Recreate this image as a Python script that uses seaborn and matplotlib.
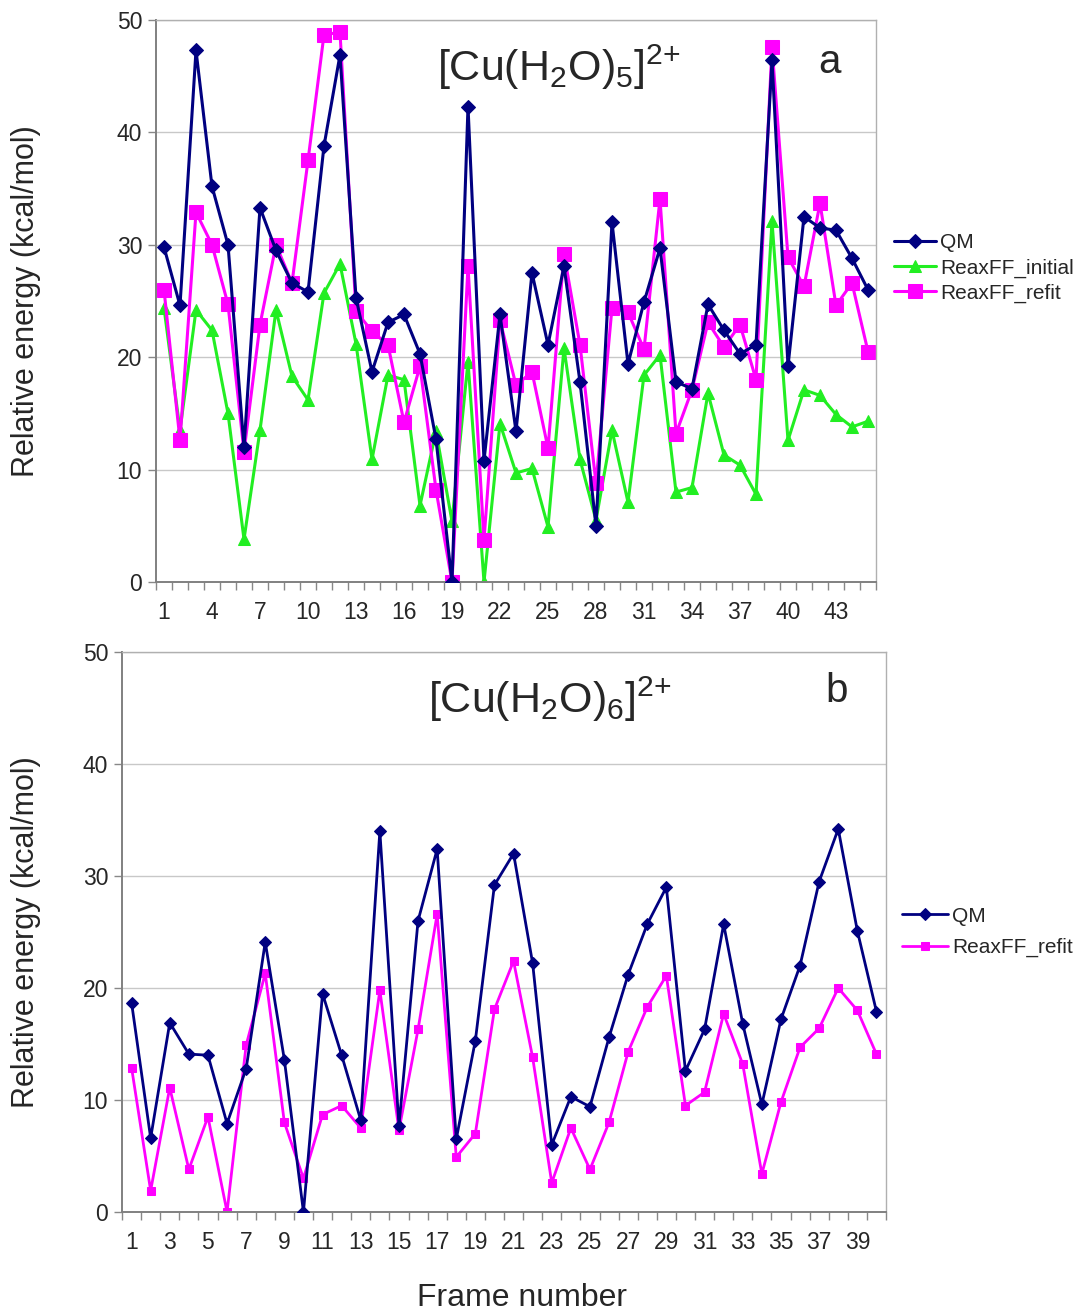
import numpy as np
import pandas as pd
import matplotlib
matplotlib.use("Agg")
import matplotlib.pyplot as plt
from matplotlib.ticker import FixedLocator
import seaborn as sns

# ---------------- data ----------------
frames_a = list(range(1, 46))
qm_a = [29.8, 24.6, 47.3, 35.2, 30.0, 12.0, 33.3, 29.5, 26.6, 25.8,
        38.8, 46.9, 25.3, 18.7, 23.1, 23.8, 20.3, 12.7, 0.0, 42.3,
        10.8, 23.8, 13.4, 27.5, 21.1, 28.1, 17.8, 5.0, 32.0, 19.4,
        24.9, 29.7, 17.8, 17.2, 24.7, 22.4, 20.3, 21.1, 46.4, 19.2,
        32.5, 31.5, 31.3, 28.8, 26.0]
initial_a = [24.4, 13.5, 24.2, 22.4, 15.0, 3.8, 13.5, 24.2, 18.3, 16.2,
             25.7, 28.3, 21.2, 10.9, 18.4, 18.0, 6.8, 13.4, 5.4, 19.6,
             0.0, 14.1, 9.7, 10.1, 4.9, 20.8, 10.9, 5.5, 13.5, 7.1,
             18.4, 20.2, 8.0, 8.4, 16.8, 11.3, 10.4, 7.8, 32.1, 12.6,
             17.1, 16.6, 14.9, 13.8, 14.3]
refit_a = [26.0, 12.6, 32.9, 30.0, 24.7, 11.6, 22.9, 30.0, 26.6, 37.5,
           48.7, 48.9, 24.1, 22.3, 21.1, 14.2, 19.2, 8.2, 0.0, 28.1,
           3.7, 23.3, 17.5, 18.7, 11.9, 29.2, 21.1, 8.8, 24.4, 24.0,
           20.7, 34.1, 13.2, 17.1, 23.1, 20.9, 22.9, 18.0, 47.6, 28.9,
           26.3, 33.7, 24.6, 26.6, 20.5]

frames_b = list(range(1, 41))
qm_b = [18.7, 6.6, 16.9, 14.1, 14.0, 7.9, 12.8, 24.1, 13.6, 0.0,
        19.5, 14.0, 8.2, 34.0, 7.7, 26.0, 32.4, 6.5, 15.3, 29.2,
        32.0, 22.2, 6.0, 10.3, 9.4, 15.6, 21.2, 25.7, 29.0, 12.6,
        16.3, 25.7, 16.8, 9.6, 17.2, 22.0, 29.5, 34.2, 25.1, 17.9]
refit_b = [12.9, 1.9, 11.1, 3.8, 8.5, 0.0, 14.9, 21.3, 8.0, 3.0,
           8.7, 9.5, 7.5, 19.8, 7.3, 16.3, 26.6, 4.9, 7.0, 18.1,
           22.4, 13.8, 2.6, 7.5, 3.8, 8.0, 14.3, 18.3, 21.1, 9.5,
           10.7, 17.7, 13.2, 3.4, 9.8, 14.7, 16.4, 20.0, 18.0, 14.1]

xticks_a = list(range(1, 46, 3))
xticks_b = list(range(1, 41, 2))
yticks = [0, 10, 20, 30, 40, 50]

title_a = r"[Cu(H$_2$O)$_5$]$^{2{+}}$"
title_b = r"[Cu(H$_2$O)$_6$]$^{2{+}}$"

# ---------------- style ----------------
sns.set_style("white")
plt.rcParams["font.family"] = ["Liberation Sans", "DejaVu Sans"]
plt.rcParams["mathtext.default"] = "regular"
plt.rcParams["mathtext.fontset"] = "custom"
plt.rcParams["mathtext.rm"] = "Liberation Sans"

C_QM = "#000080"
C_INIT = "#22ee22"
C_REFIT = "#ff00ff"

W, H = 1092, 1314
fig = plt.figure(figsize=(W / 100, H / 100), dpi=100)

def ax_rect(l, r, t, b):
    return [l / W, 1 - b / H, (r - l) / W, (b - t) / H]

ax1 = fig.add_axes(ax_rect(156, 876, 20, 582))
ax2 = fig.add_axes(ax_rect(122, 886, 652, 1212))

# panel a
sns.lineplot(x=frames_a, y=qm_a, ax=ax1, color=C_QM, lw=2.2, marker="D",
             markersize=7.5, markeredgecolor=C_QM, label="QM", zorder=3)
sns.lineplot(x=frames_a, y=initial_a, ax=ax1, color=C_INIT, lw=2.2, marker="^",
             markersize=9, markeredgecolor=C_INIT, label="ReaxFF_initial", zorder=2)
sns.lineplot(x=frames_a, y=refit_a, ax=ax1, color=C_REFIT, lw=2.2, marker="s",
             markersize=9.5, markeredgecolor=C_REFIT, label="ReaxFF_refit", zorder=2.5)

# panel b
sns.lineplot(x=frames_b, y=qm_b, ax=ax2, color=C_QM, lw=2.0, marker="D",
             markersize=6.5, markeredgecolor=C_QM, label="QM", zorder=3)
sns.lineplot(x=frames_b, y=refit_b, ax=ax2, color=C_REFIT, lw=2.0, marker="s",
             markersize=6, markeredgecolor=C_REFIT, label="ReaxFF_refit", zorder=2)

for ax, n, xt, lx in [(ax1, 45, xticks_a, (41 - 156) / 720),
                      (ax2, 40, xticks_b, (41 - 122) / 764)]:
    ax.set_xlim(0.5, n + 0.5)
    ax.set_ylim(0, 50)
    ax.set_yticks(yticks)
    ax.set_xticks(xt)
    ax.xaxis.set_minor_locator(FixedLocator(np.arange(0.5, n + 1.0, 1.0)))
    ax.tick_params(axis="x", which="major", length=0, labelsize=16.5, pad=14)
    ax.tick_params(axis="x", which="minor", length=6, width=1, color="#888888",
                   direction="out", bottom=True)
    ax.tick_params(axis="y", which="major", length=6, width=1, color="#888888",
                   direction="out", left=True, labelsize=16.5, pad=4)
    ax.yaxis.grid(True, color="#c8c8c8", lw=1)
    ax.xaxis.grid(False)
    ax.set_axisbelow(True)
    for side in ["left", "bottom"]:
        ax.spines[side].set_color("#808080")
        ax.spines[side].set_linewidth(1.4)
    for side in ["top", "right"]:
        ax.spines[side].set_color("#b0b0b0")
        ax.spines[side].set_linewidth(1.0)
    ax.set_xlabel("")
    ax.set_ylabel("Relative energy (kcal/mol)", fontsize=22)
    ax.yaxis.set_label_coords(lx, 0.5)
    ax.legend_.remove()

ax1.text(0.39, 0.915, title_a, transform=ax1.transAxes, fontsize=31,
         ha="left", va="center")
ax1.text(0.935, 0.925, "a", transform=ax1.transAxes, fontsize=29,
         ha="center", va="center")
ax2.text(0.40, 0.915, title_b, transform=ax2.transAxes, fontsize=31,
         ha="left", va="center")
ax2.text(0.935, 0.93, "b", transform=ax2.transAxes, fontsize=29,
         ha="center", va="center")

fig.text(522 / W, 1 - 1298 / H, "Frame number", fontsize=23, ha="center", va="center")

h1, l1 = ax1.get_legend_handles_labels()
fig.legend(h1, l1, loc="center left", bbox_to_anchor=(894 / W, 1 - 268 / H),
           frameon=False, fontsize=15, handlelength=2.0, handletextpad=0.2,
           labelspacing=0.3, borderpad=0, borderaxespad=0)
h2, l2 = ax2.get_legend_handles_labels()
fig.legend(h2, l2, loc="center left", bbox_to_anchor=(902 / W, 1 - 932 / H),
           frameon=False, fontsize=15, handlelength=2.2, handletextpad=0.2,
           labelspacing=0.6, borderpad=0, borderaxespad=0)

fig.savefig("out.png", dpi=100)
